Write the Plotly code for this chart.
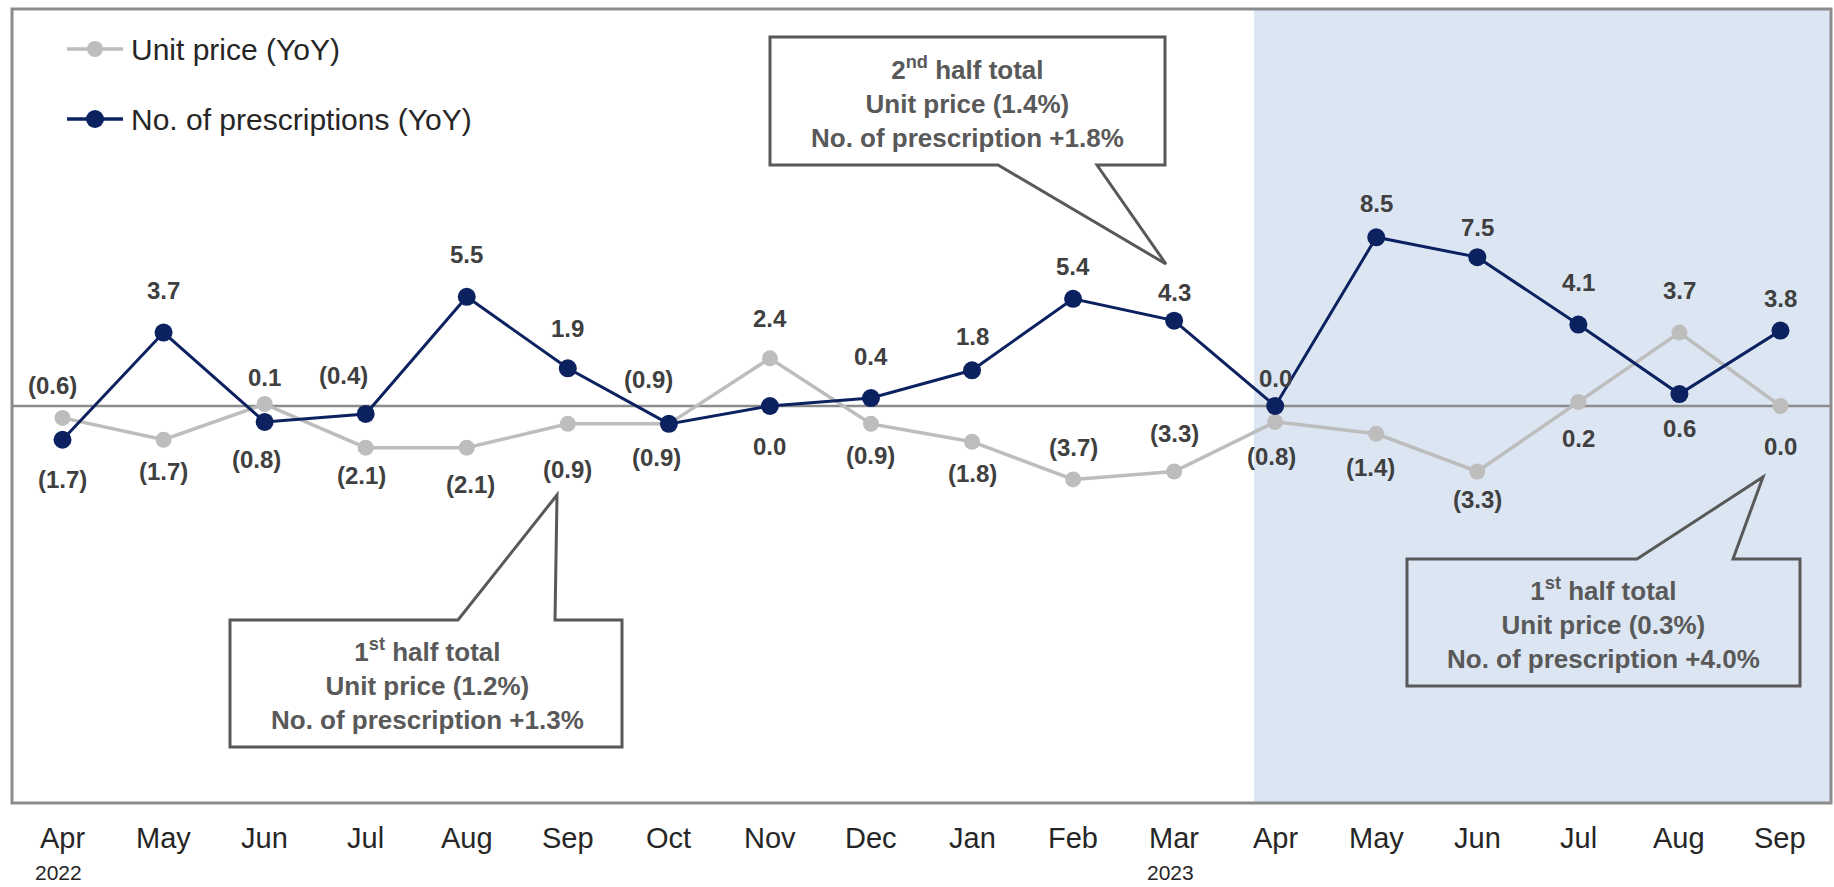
import plotly.graph_objects as go

# ---- data -------------------------------------------------------------
months = ["Apr", "May", "Jun", "Jul", "Aug", "Sep", "Oct", "Nov", "Dec",
          "Jan", "Feb", "Mar", "Apr", "May", "Jun", "Jul", "Aug", "Sep"]
year_labels = {0: "2022", 11: "2023"}
unit_price = [-0.6, -1.7, 0.1, -2.1, -2.1, -0.9, -0.9, 2.4, -0.9,
              -1.8, -3.7, -3.3, -0.8, -1.4, -3.3, 0.2, 3.7, 0.0]
prescriptions = [-1.7, 3.7, -0.8, -0.4, 5.5, 1.9, -0.9, 0.0, 0.4,
                 1.8, 5.4, 4.3, 0.0, 8.5, 7.5, 4.1, 0.6, 3.8]
series_names = ["Unit price (YoY)", "No. of prescriptions (YoY)"]
callout_texts = [
    "2<sup>nd</sup> half total<br>Unit price (1.4%)<br>No. of prescription +1.8%",
    "1<sup>st</sup> half total<br>Unit price (1.2%)<br>No. of prescription +1.3%",
    "1<sup>st</sup> half total<br>Unit price (0.3%)<br>No. of prescription +4.0%",
]

# ---- label placement (pixel offsets: dy>0 above the point) ------------
price_dy = [32, -32, 27, -28, -37, -46, -34, 40, -32, -32, 32, 38, -35, -34, -28, -36, 42, -40]
price_dx = [-10, 0, 0, -4, 4, 0, -12, 0, 0, 0, 0, 0, -4, -6, 0, 0, 0, 0]
presc_dy = [-40, 42, -38, 38, 42, 40, 44, -40, 42, 34, 32, 28, 28, 34, 30, 42, -34, 32]
presc_dx = [0, 0, -8, -22, 0, 0, -20, 0, 0, 0, 0, 0, 0, 0, 0, 0, 0, 0]

# ---- styling ----------------------------------------------------------
W, H = 1834, 887
L, R, T, B = 12, 3, 9, 84
PW, PH = W - L - R, H - T - B
NAVY = "#0c2160"
GREY = "#bdbdbd"
FONT = "Liberation Sans, Arial, sans-serif"
SHADE = "#dce6f2"


def px(x):
    return (x - L) / PW


def py(y):
    return (H - B - y) / PH


def fmt(v):
    return f"({abs(v):.1f})" if v < 0 else f"{v:.1f}"


xs = list(range(len(months)))

fig = go.Figure()
fig.add_trace(go.Scatter(
    x=xs, y=unit_price, mode="lines+markers", name=series_names[0],
    line=dict(color=GREY, width=3.5), marker=dict(color=GREY, size=16),
    showlegend=False, hoverinfo="skip"))
fig.add_trace(go.Scatter(
    x=xs, y=prescriptions, mode="lines+markers", name=series_names[1],
    line=dict(color=NAVY, width=3), marker=dict(color=NAVY, size=18),
    showlegend=False, hoverinfo="skip"))

annotations = []
# value labels
for vals, dys, dxs in ((unit_price, price_dy, price_dx),
                       (prescriptions, presc_dy, presc_dx)):
    for i, v in enumerate(vals):
        annotations.append(dict(
            x=i, y=v, xref="x", yref="y", text=f"<b>{fmt(v)}</b>",
            showarrow=False, xshift=dxs[i], yshift=dys[i],
            xanchor="center", yanchor="middle",
            font=dict(family=FONT, size=24, color="#404040")))

# month labels and years
for i, m in enumerate(months):
    annotations.append(dict(
        x=i, y=py(838), xref="x", yref="paper", text=m, showarrow=False,
        xanchor="center", yanchor="middle",
        font=dict(family=FONT, size=29, color="#262626")))
for i, yr in year_labels.items():
    annotations.append(dict(
        x=i, y=py(872), xref="x", yref="paper", text=yr, showarrow=False,
        xshift=-4, xanchor="center", yanchor="middle",
        font=dict(family=FONT, size=21, color="#262626")))

shapes = [
    # shaded current period
    dict(type="rect", xref="x", yref="paper", x0=11.79, x1=17.5, y0=0, y1=1,
         fillcolor=SHADE, line=dict(width=0), layer="below"),
    # zero line
    dict(type="line", xref="paper", yref="y", x0=0, x1=1, y0=0, y1=0,
         line=dict(color="#8c8c8c", width=2.5), layer="below"),
    # frame
    dict(type="rect", xref="paper", yref="paper", x0=0, x1=1, y0=0, y1=1,
         line=dict(color="#8c8c8c", width=3)),
]

# legend rows
for k, (name, col, msize) in enumerate(((series_names[0], GREY, 16),
                                         (series_names[1], NAVY, 18))):
    yy = [49, 119][k]
    shapes.append(dict(type="line", xref="paper", yref="paper",
                       x0=px(67), x1=px(123), y0=py(yy), y1=py(yy),
                       line=dict(color=col, width=3.5)))
    shapes.append(dict(type="circle", xref="paper", yref="paper",
                       xsizemode="pixel", ysizemode="pixel",
                       xanchor=px(95), yanchor=py(yy),
                       x0=-msize / 2, x1=msize / 2, y0=-msize / 2, y1=msize / 2,
                       fillcolor=col, line=dict(width=0)))
    annotations.append(dict(x=px(129), y=py(yy), xref="paper", yref="paper",
                            text=name, showarrow=False, xanchor="left",
                            yanchor="middle",
                            font=dict(family=FONT, size=30, color="#262626")))


# callout boxes with pointers
def callout(points, fill, text, cx, cy):
    d = "M " + " L ".join(f"{px(a):.5f},{py(b):.5f}" for a, b in points) + " Z"
    shapes.append(dict(type="path", xref="paper", yref="paper", path=d,
                       fillcolor=fill, line=dict(color="#595959", width=3)))
    annotations.append(dict(x=px(cx), y=py(cy), xref="paper", yref="paper",
                            text=f"<b>{text}</b>", showarrow=False,
                            align="center", xanchor="center", yanchor="middle",
                            font=dict(family=FONT, size=26, color="#595959")))


callout([(770, 37), (1165, 37), (1165, 165), (1097, 165), (1166, 264),
         (998, 165), (770, 165)], "white", callout_texts[0], 967, 102)
callout([(230, 620), (458, 620), (557, 495), (555, 620), (622, 620),
         (622, 747), (230, 747)], "white", callout_texts[1], 427, 684)
callout([(1407, 559), (1637, 559), (1763, 477), (1733, 559), (1800, 559),
         (1800, 686), (1407, 686)], SHADE, callout_texts[2], 1603, 623)

fig.update_layout(
    width=W, height=H,
    margin=dict(l=L, r=R, t=T, b=B),
    paper_bgcolor="white", plot_bgcolor="white",
    xaxis=dict(range=[-0.5, 17.5], showgrid=False, zeroline=False,
               showticklabels=False, ticks="", fixedrange=True),
    yaxis=dict(range=[-20, 20], showgrid=False, zeroline=False,
               showticklabels=False, ticks="", fixedrange=True),
    shapes=shapes, annotations=annotations,
)

fig.write_html("out.html", config={"displayModeBar": False})
